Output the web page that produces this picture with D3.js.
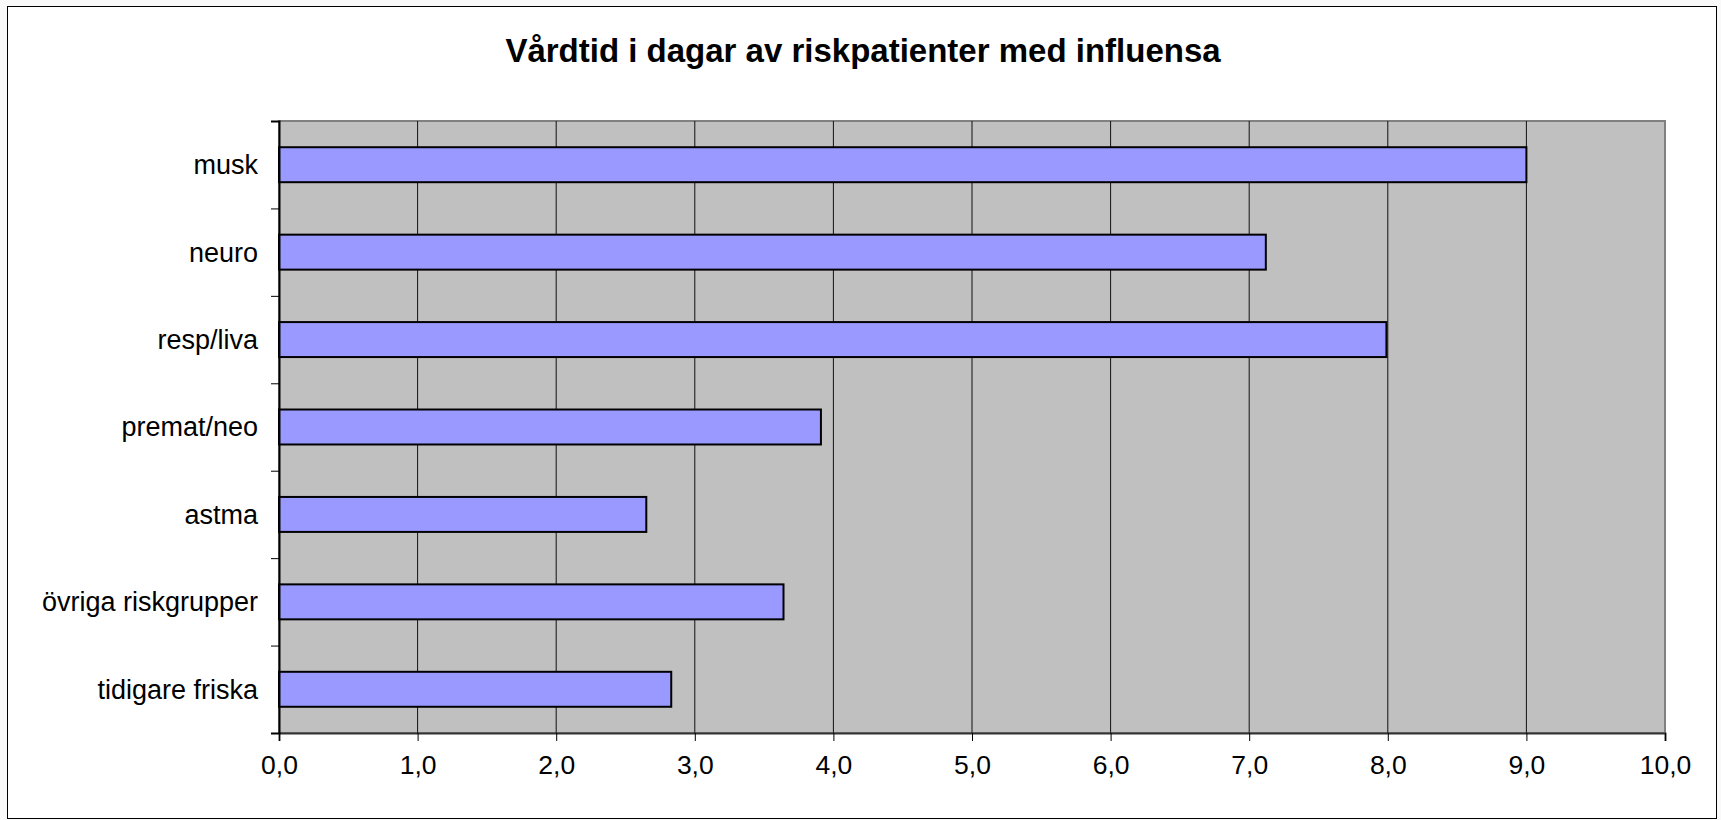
<!DOCTYPE html>
<html>
<head>
<meta charset="utf-8">
<script src="https://cdnjs.cloudflare.com/ajax/libs/d3/7.8.5/d3.min.js"></script>
<style>
  body { margin: 0; background: #f9f9f9; }
  svg { display: block; font-family: "Liberation Sans", Arial, sans-serif; }
</style>
</head>
<body>
<div id="chart"></div>
<script>
// chart data
var title = 'Vårdtid i dagar av riskpatienter med influensa';
var categories = ['musk', 'neuro', 'resp/liva', 'premat/neo', 'astma', 'övriga riskgrupper', 'tidigare friska'];
var values = [9.0, 7.12, 7.99, 3.91, 2.65, 3.64, 2.83];
var xTicks = [0, 1, 2, 3, 4, 5, 6, 7, 8, 9, 10];
var xTickLabels = ['0,0', '1,0', '2,0', '3,0', '4,0', '5,0', '6,0', '7,0', '8,0', '9,0', '10,0'];

var width = 1721, height = 820;
var plot = {left: 279, right: 1665, top: 121, bottom: 733};

var svg = d3.select('#chart').append('svg')
    .attr('width', width)
    .attr('height', height);

// chart frame
svg.append('rect')
    .attr('x', 7.5).attr('y', 6.5)
    .attr('width', 1709).attr('height', 812)
    .attr('fill', '#fff')
    .attr('stroke', '#000')
    .attr('stroke-width', 1);

svg.append('text')
    .attr('x', 863)
    .attr('y', 62)
    .attr('text-anchor', 'middle')
    .attr('font-size', 33)
    .attr('font-weight', 'bold')
    .text(title);

var x = d3.scaleLinear()
    .domain([0, 10])
    .range([plot.left, plot.right]);

var y = d3.scaleBand()
    .domain(categories)
    .range([plot.top, plot.bottom])
    .paddingInner(0.6)
    .paddingOuter(0.3);

// for the category tick marks between bands
var yEdge = d3.scaleLinear()
    .domain([0, categories.length])
    .range([plot.top, plot.bottom]);

// plot area
svg.append('rect')
    .attr('x', plot.left).attr('y', plot.top)
    .attr('width', plot.right - plot.left)
    .attr('height', plot.bottom - plot.top)
    .attr('fill', '#c0c0c0')
    .attr('stroke', '#808080')
    .attr('stroke-width', 2);

// vertical gridlines
svg.append('g').selectAll('line')
    .data(xTicks.slice(1, -1))
    .enter()
    .append('line')
    .attr('x1', (d) => x(d)).attr('x2', (d) => x(d))
    .attr('y1', plot.top).attr('y2', plot.bottom)
    .attr('stroke', '#111')
    .attr('stroke-width', 1);

// bars
svg.append('g').selectAll('rect')
    .data(values)
    .enter()
    .append('rect')
    .attr('x', x(0))
    .attr('y', (d, i) => y(categories[i]))
    .attr('width', (d) => x(d) - x(0))
    .attr('height', y.bandwidth())
    .attr('fill', '#9999ff')
    .attr('stroke', '#000')
    .attr('stroke-width', 2);

// x axis
var xAxis = svg.append('g')
    .attr('transform', 'translate(0,' + plot.bottom + ')')
    .call(d3.axisBottom(x)
        .tickValues(xTicks)
        .tickSize(8)
        .tickPadding(14)
        .tickFormat((d, i) => xTickLabels[i]));
xAxis.select('.domain').attr('stroke', '#333').attr('stroke-width', 2);
xAxis.selectAll('.tick line').attr('stroke', '#000');
xAxis.selectAll('.tick text')
    .attr('font-size', 26.5)
    .attr('font-family', '"Liberation Sans", Arial, sans-serif')
    .attr('fill', '#000');

// y axis line and ticks
var yAxis = svg.append('g')
    .attr('transform', 'translate(' + plot.left + ',0)')
    .call(d3.axisLeft(yEdge)
        .tickValues(d3.range(categories.length + 1))
        .tickSize(8)
        .tickFormat(''));
yAxis.select('.domain').attr('stroke', '#000').attr('stroke-width', 2);
yAxis.selectAll('.tick line').attr('stroke', '#000');

// category labels
svg.append('g').selectAll('text')
    .data(categories)
    .enter()
    .append('text')
    .attr('x', plot.left - 21)
    .attr('y', (d) => y(d) + y.bandwidth() / 2)
    .attr('dy', '0.35em')
    .attr('text-anchor', 'end')
    .attr('font-size', 27)
    .text((d) => d);
</script>
</body>
</html>
